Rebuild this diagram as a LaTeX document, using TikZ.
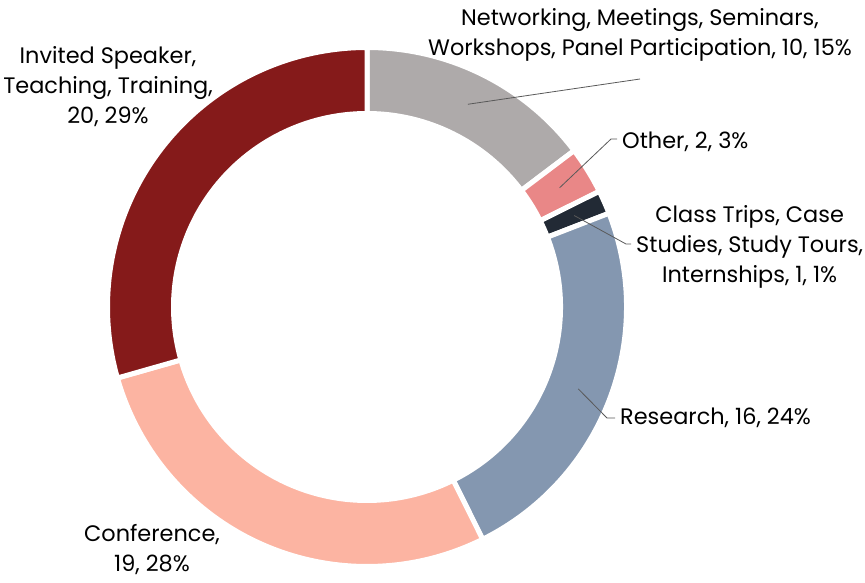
\documentclass[tikz,border=0pt]{standalone}
\usepackage{fontspec}
\setmainfont{Poppins}
\usetikzlibrary{calc}
\definecolor{invited}{HTML}{851A1A}
\definecolor{confer}{HTML}{FCB4A2}
\definecolor{research}{HTML}{8497B0}
\definecolor{classtrip}{HTML}{222A35}
\definecolor{other}{HTML}{E98787}
\definecolor{network}{HTML}{AEAAAA}
\def\Rout{259.5}
\def\Rin{193.5}
% one ring segment: start angle, end angle, colour
\newcommand{\ringseg}[3]{%
  \filldraw[seg, fill=#3] ($(ctr)+(#1:\Rout)$) arc[start angle=#1, end angle=#2, radius=\Rout]
    -- ($(ctr)+(#2:\Rin)$) arc[start angle=#2, end angle=#1, radius=\Rin] -- cycle;}

\begin{document}
\begin{tikzpicture}[x=1pt, y=1pt,
	seg/.style={draw=white, line width=5pt},
	lbl/.style={align=center, font=\fontsize{22.4}{30}\selectfont, inner xsep=5pt, inner ysep=0pt},
	leader/.style={draw=black!65, line width=0.8pt}]
	\useasboundingbox (0,0) rectangle (865,582);
	\coordinate (ctr) at (367,275);

	\ringseg{90}{37.059}{network}
	\ringseg{37.059}{26.471}{other}
	\ringseg{26.471}{21.176}{classtrip}
	\ringseg{21.176}{-63.529}{research}
	\ringseg{-63.529}{-164.118}{confer}
	\ringseg{-164.118}{-270}{invited}

	\node[lbl] (netlbl) at (640,547) {Networking, Meetings, Seminars,\\Workshops, Panel Participation, 10, 15\%};
	\node[lbl, anchor=west] (othlbl) at (617,440) {Other, 2, 3\%};
	\node[lbl, anchor=west] (triplbl) at (631,335) {Class Trips, Case\\Studies, Study Tours,\\Internships, 1, 1\%};
	\node[lbl, anchor=west] (reslbl) at (615,164) {Research, 16, 24\%};
	\node[lbl] (conflbl) at (152,32) {Conference,\\19, 28\%};
	\node[lbl] (invlbl) at (108,495) {Invited Speaker,\\Teaching, Training,\\20, 29\%};

	\coordinate (netpt) at ($(ctr)+(63.53:226.5)$);
	\coordinate (othpt) at ($(ctr)+(31.76:226.5)$);
	\coordinate (trippt) at ($(ctr)+(23.82:226.5)$);
	\coordinate (respt) at ($(ctr)+(-21.18:226.5)$);
	\coordinate (netend) at (640,503);
	\coordinate (othbend) at (611,443);
	\coordinate (tripbend) at (626,338);
	\coordinate (resbend) at (607,164);

	\draw[leader] (netpt) -- (netend);
	\draw[leader] (othpt) -- (othbend) -- (othbend -| othlbl.west);
	\draw[leader] (trippt) -- (tripbend) -- (tripbend -| triplbl.west);
	\draw[leader] (respt) -- (resbend) -- (reslbl.west);
\end{tikzpicture}
\end{document}
